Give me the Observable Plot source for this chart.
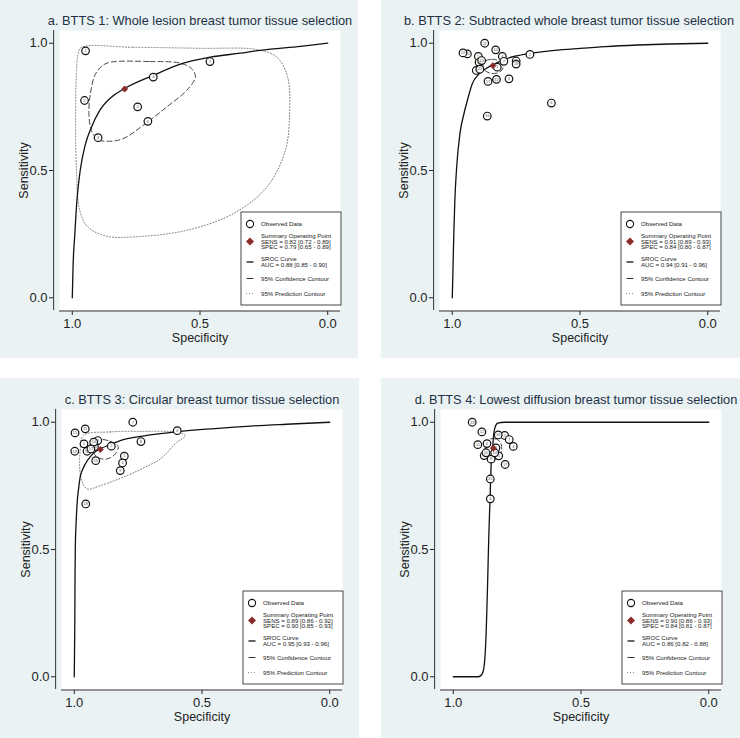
<!DOCTYPE html>
<html>
<head>
<meta charset="utf-8">
<script src="https://cdn.jsdelivr.net/npm/d3@7"></script>
<script src="https://cdn.jsdelivr.net/npm/@observablehq/plot@0.6"></script>
<style>
  html, body { margin: 0; padding: 0; background: #ffffff; }
  #root { position: relative; width: 740px; height: 738px; overflow: hidden; background: #ffffff; }
  .bg { position: absolute; background: #eaf2f3; }
  .pl { position: absolute; }
</style>
</head>
<body>
<div id="root"></div>
<script>
// ---------- shared ticks ----------
const xTicks = [1.0, 0.5, 0.0];
const yTicks = [0.0, 0.5, 1.0];
const xLabel = "Specificity";
const yLabel = "Sensitivity";
const legendNames = ["Observed Data", "Summary Operating Point", "SROC Curve", "95% Confidence Contour", "95% Prediction Contour"];

// ---------- panel a ----------
const titleA = "a. BTTS 1: Whole lesion breast tumor tissue selection";
const aSpec = [0.948, 0.952, 0.899, 0.683, 0.744, 0.704, 0.461];
const aSens = [0.970, 0.775, 0.629, 0.867, 0.750, 0.693, 0.928];
const aSummary = [0.795, 0.82];
const aSrocSpec = [1.0, 0.997, 0.990, 0.982, 0.969, 0.948, 0.925, 0.893, 0.847, 0.797, 0.680, 0.585, 0.460, 0.342, 0.264, 0.106, 0.0];
const aSrocSens = [0.0, 0.12, 0.25, 0.38, 0.50, 0.605, 0.67, 0.735, 0.788, 0.821, 0.875, 0.915, 0.945, 0.961, 0.972, 0.988, 1.0];
const aConfSpec = [0.853, 0.696, 0.579, 0.533, 0.518, 0.552, 0.631, 0.723, 0.801, 0.853, 0.899, 0.925, 0.935, 0.929, 0.912, 0.886];
const aConfSens = [0.925, 0.928, 0.922, 0.900, 0.867, 0.815, 0.749, 0.677, 0.625, 0.615, 0.621, 0.658, 0.723, 0.802, 0.873, 0.909];
const aPredSpec = [0.965, 0.762, 0.500, 0.277, 0.199, 0.157, 0.149, 0.166, 0.238, 0.369, 0.552, 0.762, 0.866, 0.939, 0.971, 0.984, 0.987, 0.984, 0.978];
const aPredSens = [0.983, 0.984, 0.980, 0.975, 0.945, 0.867, 0.736, 0.579, 0.435, 0.331, 0.265, 0.239, 0.242, 0.278, 0.344, 0.514, 0.710, 0.880, 0.952];
const aLegend = ["SENS = 0.82 [0.72 - 0.89]", "SPEC = 0.79 [0.65 - 0.89]", "AUC = 0.88 [0.85 - 0.90]"];

// ---------- panel b ----------
const titleB = "b. BTTS 2: Subtracted whole breast tumor tissue selection";
const bSpec = [0.824, 0.696, 0.778, 0.804, 0.898, 0.612, 0.798, 0.750, 0.906, 0.895, 0.873, 0.827, 0.885, 0.830, 0.941, 0.863, 0.860, 0.750, 0.958, 0.892];
const bSens = [0.906, 0.956, 0.860, 0.948, 0.948, 0.765, 0.929, 0.930, 0.893, 0.925, 1.000, 0.858, 0.932, 0.974, 0.958, 0.714, 0.850, 0.918, 0.962, 0.898];
const bSummary = [0.841, 0.912];
const bSrocSpec = [1.0, 0.997, 0.994, 0.990, 0.983, 0.970, 0.955, 0.941, 0.922, 0.895, 0.869, 0.841, 0.800, 0.750, 0.694, 0.600, 0.500, 0.400, 0.275, 0.150, 0.0];
const bSrocSens = [0.0, 0.12, 0.25, 0.38, 0.51, 0.645, 0.72, 0.775, 0.84, 0.88, 0.90, 0.915, 0.935, 0.95, 0.96, 0.972, 0.98, 0.987, 0.993, 0.997, 1.0];
const bConfSpec = [0.870, 0.845, 0.820, 0.802, 0.805, 0.825, 0.850, 0.872, 0.880];
const bConfSens = [0.930, 0.937, 0.932, 0.915, 0.895, 0.883, 0.882, 0.893, 0.912];
const bLegend = ["SENS = 0.91 [0.89 - 0.93]", "SPEC = 0.84 [0.80 - 0.87]", "AUC = 0.94 [0.91 - 0.96]"];

// ---------- panel c ----------
const titleC = "c. BTTS 3: Circular breast tumor tissue selection";
const cSpec = [0.962, 0.855, 0.908, 0.597, 0.804, 0.811, 0.771, 0.739, 0.820, 0.921, 0.957, 0.950, 0.998, 0.924, 0.997, 0.916, 0.935, 0.955];
const cSens = [0.915, 0.906, 0.928, 0.967, 0.867, 0.840, 1.000, 0.924, 0.810, 0.904, 0.974, 0.886, 0.886, 0.922, 0.958, 0.849, 0.895, 0.679];
const cSummary = [0.898, 0.893];
const cSrocSpec = [1.0, 0.998, 0.997, 0.996, 0.993, 0.989, 0.983, 0.977, 0.967, 0.957, 0.937, 0.911, 0.898, 0.860, 0.820, 0.715, 0.600, 0.450, 0.311, 0.150, 0.0];
const cSrocSens = [0.0, 0.2, 0.4, 0.5, 0.6, 0.68, 0.74, 0.784, 0.815, 0.836, 0.865, 0.889, 0.896, 0.912, 0.928, 0.948, 0.962, 0.975, 0.985, 0.993, 1.0];
const cConfSpec = [0.900, 0.860, 0.828, 0.840, 0.870, 0.900, 0.925, 0.925];
const cConfSens = [0.932, 0.925, 0.905, 0.875, 0.856, 0.858, 0.880, 0.915];
const cPredSpec = [0.964, 0.860, 0.730, 0.611, 0.565, 0.600, 0.663, 0.730, 0.794, 0.898, 0.950, 0.974, 0.977];
const cPredSens = [0.948, 0.962, 0.964, 0.962, 0.948, 0.920, 0.856, 0.820, 0.790, 0.751, 0.738, 0.784, 0.889];
const cLegend = ["SENS = 0.89 [0.86 - 0.92]", "SPEC = 0.90 [0.85 - 0.93]", "AUC = 0.95 [0.93 - 0.96]"];

// ---------- panel d ----------
const titleD = "d. BTTS 4: Lowest diffusion breast tumor tissue selection";
const dSpec = [0.833, 0.799, 0.765, 0.855, 0.822, 0.868, 0.781, 0.852, 0.879, 0.872, 0.904, 0.888, 0.926, 0.838, 0.855, 0.824, 0.797];
const dSens = [0.899, 0.948, 0.905, 0.699, 0.868, 0.916, 0.932, 0.855, 0.869, 0.880, 0.912, 0.962, 1.000, 0.880, 0.777, 0.950, 0.834];
const dSummary = [0.843, 0.898];
const dSrocSpec = [1.0, 0.95, 0.902, 0.889, 0.881, 0.876, 0.871, 0.866, 0.861, 0.856, 0.851, 0.846, 0.842, 0.837, 0.826, 0.80, 0.5, 0.0];
const dSrocSens = [0.0, 0.0, 0.0, 0.008, 0.03, 0.076, 0.18, 0.35, 0.55, 0.70, 0.85, 0.90, 0.95, 0.978, 0.996, 1.0, 1.0, 1.0];
const dConfSpec = [0.860, 0.835, 0.815, 0.810, 0.820, 0.840, 0.862, 0.875, 0.873];
const dConfSens = [0.932, 0.935, 0.920, 0.895, 0.865, 0.852, 0.858, 0.880, 0.910];
const dLegend = ["SENS = 0.90 [0.86 - 0.93]", "SPEC = 0.84 [0.81 - 0.87]", "AUC = 0.86 [0.82 - 0.88]"];

// ---------- layout ----------
const FONT = "'Liberation Sans', Arial, Helvetica, sans-serif";
const root = document.getElementById("root");
const pairs = (xs, ys) => xs.map((x, i) => ({spec: x, sens: ys[i]}));
const fmt = d => d.toFixed(1);

const backgrounds = [
  {left: 0, top: 0, w: 358, h: 358},
  {left: 381, top: 0, w: 359, h: 358},
  {left: 0, top: 378, w: 359, h: 360},
  {left: 381, top: 378, w: 359, h: 360}
];
backgrounds.forEach(b => {
  const d = document.createElement("div");
  d.className = "bg";
  Object.assign(d.style, {left: b.left + "px", top: b.top + "px", width: b.w + "px", height: b.h + "px"});
  root.appendChild(d);
});

const panels = [
  {title: titleA, spec: aSpec, sens: aSens, sum: aSummary, srocSpec: aSrocSpec, srocSens: aSrocSens,
   confSpec: aConfSpec, confSens: aConfSens, predSpec: aPredSpec, predSens: aPredSens, legend: aLegend,
   left: -1, top: 0, titleDx: 0},
  {title: titleB, spec: bSpec, sens: bSens, sum: bSummary, srocSpec: bSrocSpec, srocSens: bSrocSens,
   confSpec: bConfSpec, confSens: bConfSens, predSpec: null, predSens: null, legend: bLegend,
   left: 379, top: 0, titleDx: -11},
  {title: titleC, spec: cSpec, sens: cSens, sum: cSummary, srocSpec: cSrocSpec, srocSens: cSrocSens,
   confSpec: cConfSpec, confSens: cConfSens, predSpec: cPredSpec, predSens: cPredSens, legend: cLegend,
   left: 1, top: 379, titleDx: 0},
  {title: titleD, spec: dSpec, sens: dSens, sum: dSummary, srocSpec: dSrocSpec, srocSens: dSrocSens,
   confSpec: dConfSpec, confSens: dConfSens, predSpec: null, predSens: null, legend: dLegend,
   left: 380, top: 379, titleDx: -5}
];

const W = 360, H = 360, ML = 60, MR = 19, MT = 30, MB = 50;

panels.forEach(p => {
  const pts = p.spec.map((s, i) => ({spec: s, sens: p.sens[i], id: String(i + 1)}));
  const marks = [
    Plot.frame({fill: "white", stroke: "none"}),
    Plot.ruleX([1.073], {y1: -0.05, y2: 1.05, stroke: "#333", strokeWidth: 1}),
    Plot.ruleY([-0.052], {x1: 1.05, x2: -0.05, stroke: "#333", strokeWidth: 1}),
    Plot.axisY({ticks: yTicks, tickFormat: fmt, tickSize: 4, tickPadding: 2, dx: -6, fontSize: 13, label: null, color: "#222"}),
    Plot.axisX({ticks: xTicks, tickFormat: fmt, tickSize: 4, tickPadding: 3, dy: 1, fontSize: 13, label: null, color: "#222"}),
    Plot.text([yLabel], {frameAnchor: "left", rotate: -90, dx: -36, textAnchor: "middle", lineAnchor: "middle", fontSize: 12.5, fill: "#222"}),
    Plot.text([xLabel], {frameAnchor: "bottom", dy: 27, textAnchor: "middle", lineAnchor: "middle", fontSize: 12.5, fill: "#222"}),
    Plot.text([p.title], {frameAnchor: "top", dy: -9.5, dx: p.titleDx, textAnchor: "middle", lineAnchor: "middle", fontSize: 12.8, fill: "#1e3145"})
  ];
  if (p.predSpec) {
    marks.push(Plot.line(pairs(p.predSpec, p.predSens), {x: "spec", y: "sens", curve: "catmull-rom-closed", stroke: "#777", strokeWidth: 1, strokeDasharray: "1,2"}));
  }
  marks.push(Plot.line(pairs(p.confSpec, p.confSens), {x: "spec", y: "sens", curve: "catmull-rom-closed", stroke: "#333", strokeWidth: 0.9, strokeDasharray: "5,3"}));
  marks.push(Plot.line(pairs(p.srocSpec, p.srocSens), {x: "spec", y: "sens", curve: "monotone-x", stroke: "#111", strokeWidth: 1.3}));
  marks.push(Plot.dot(pts, {x: "spec", y: "sens", r: 3.8, fill: "white", stroke: "#111", strokeWidth: 1.2}));
  marks.push(Plot.text(pts, {x: "spec", y: "sens", text: "id", fontSize: 4, fill: "#555"}));
  marks.push(Plot.dot([{spec: p.sum[0], sens: p.sum[1]}], {x: "spec", y: "sens", symbol: "diamond2", r: 2.9, fill: "#8b2b2b", stroke: "#8b2b2b", strokeWidth: 0.5}));

  const svg = Plot.plot({
    width: W, height: H,
    marginLeft: ML, marginRight: MR, marginTop: MT, marginBottom: MB,
    x: {domain: [1.05, -0.05]},
    y: {domain: [-0.05, 1.05]},
    style: {background: "transparent", fontFamily: FONT, color: "#222"},
    marks
  });
  svg.classList.add("pl");
  svg.style.left = p.left + "px";
  svg.style.top = p.top + "px";
  svg.style.maxWidth = "none";

  // legend box (inside the plot frame, bottom-right)
  const R = W - MR, B = H - MB;
  const bx = R - 99, by = B - 98;
  const g = d3.select(svg).append("g")
    .attr("font-family", FONT).attr("font-size", 6.1).attr("fill", "#1a1a1a")
    .attr("text-anchor", "start");
  g.append("rect").attr("x", bx).attr("y", by).attr("width", 100).attr("height", 93)
    .attr("fill", "white").attr("stroke", "#333").attr("stroke-width", 0.9);
  const sx = bx + 9, tx = bx + 20;
  // observed
  g.append("circle").attr("cx", sx).attr("cy", by + 12).attr("r", 3.6).attr("fill", "white").attr("stroke", "#111").attr("stroke-width", 1.1);
  g.append("text").attr("x", tx).attr("y", by + 12).attr("dy", "0.35em").text(legendNames[0]);
  // summary
  const sy = by + 29.5;
  g.append("path").attr("d", `M${sx},${sy - 4}L${sx + 4},${sy}L${sx},${sy + 4}L${sx - 4},${sy}Z`).attr("fill", "#8b2b2b");
  [legendNames[1], p.legend[0], p.legend[1]].forEach((t, i) => {
    g.append("text").attr("x", tx).attr("y", sy + (i - 1) * 5.4).attr("dy", "0.35em").text(t);
  });
  // sroc
  const ry = by + 50;
  g.append("line").attr("x1", sx - 3.5).attr("x2", sx + 3.5).attr("y1", ry).attr("y2", ry).attr("stroke", "#111").attr("stroke-width", 1.3);
  [legendNames[2], p.legend[2]].forEach((t, i) => {
    g.append("text").attr("x", tx).attr("y", ry + (i - 0.5) * 5.4).attr("dy", "0.35em").text(t);
  });
  // confidence
  const cy = by + 66.5;
  g.append("line").attr("x1", sx - 3.5).attr("x2", sx + 3.5).attr("y1", cy).attr("y2", cy).attr("stroke", "#333").attr("stroke-width", 1);
  g.append("text").attr("x", tx).attr("y", cy).attr("dy", "0.35em").text(legendNames[3]);
  // prediction
  const py = by + 81.5;
  g.append("line").attr("x1", sx - 4).attr("x2", sx + 4).attr("y1", py).attr("y2", py).attr("stroke", "#888").attr("stroke-width", 1).attr("stroke-dasharray", "1,2");
  g.append("text").attr("x", tx).attr("y", py).attr("dy", "0.35em").text(legendNames[4]);

  root.appendChild(svg);
});
</script>
</body>
</html>
